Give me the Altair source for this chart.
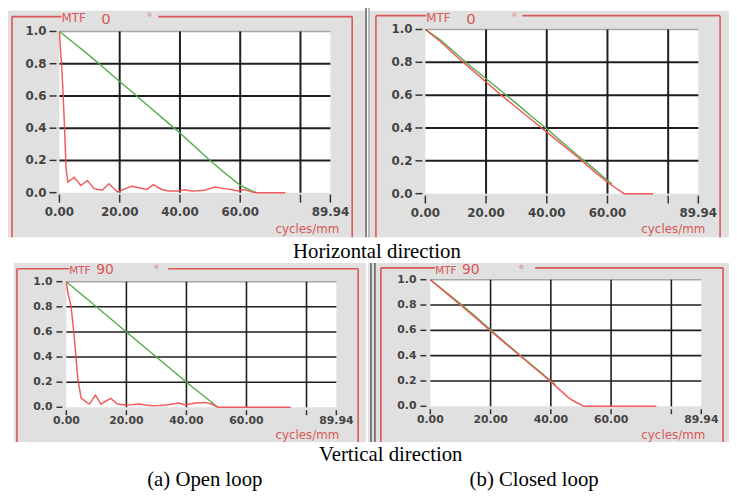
import altair as alt
import pandas as pd

# ---------------- data ----------------
x_max = 89.94
x_tick_values = [0, 20, 40, 60, 80, 89.94]
x_tick_labels = ["0.00", "20.00", "40.00", "60.00", "", "89.94"]
y_tick_values = [0.0, 0.2, 0.4, 0.6, 0.8, 1.0]
y_tick_labels = ["0.0", "0.2", "0.4", "0.6", "0.8", "1.0"]
x_grid_values = [20, 40, 60, 80]
y_grid_values = [0.2, 0.4, 0.6, 0.8]
y_top_value = [1.0]

# Horizontal direction, open loop
h_open_green_x = [0, 5, 10, 15, 20, 25, 30, 35, 40, 45, 50, 55, 60, 65.2]
h_open_green_y = [1.0, 0.925, 0.85, 0.77, 0.69, 0.61, 0.53, 0.45, 0.37, 0.285, 0.2, 0.12, 0.045, 0.0]
h_open_red_x = [0, 0.3, 0.7, 1.2, 1.7, 2.2, 2.8, 3.8, 4.9, 6.0, 7.1, 8.2, 9.3, 10.4, 11.5,
                12.8, 14.2, 15.3, 16.4, 17.8, 19.2, 20.5, 21.9, 24.1, 26.3, 29.0, 31.2, 32.5,
                34.0, 36.2, 39.5, 41.6, 43.8, 46.0, 48.2, 51.5, 54.8, 57.0, 59.2, 61.4, 63.6,
                65.8, 75.0]
h_open_red_y = [1.0, 0.9, 0.8, 0.62, 0.4, 0.15, 0.065, 0.08, 0.095, 0.07, 0.045, 0.06, 0.075,
                0.05, 0.025, 0.02, 0.015, 0.035, 0.055, 0.03, 0.005, 0.015, 0.025, 0.04, 0.03,
                0.02, 0.05, 0.035, 0.02, 0.01, 0.01, 0.018, 0.01, 0.012, 0.015, 0.035, 0.025,
                0.02, 0.01, 0.02, 0.005, 0.0, 0.0]

# Horizontal direction, closed loop
h_closed_green_x = [0, 5, 10, 15, 20, 25, 30, 35, 40, 45, 50, 55, 60, 61.5]
h_closed_green_y = [1.0, 0.935, 0.855, 0.775, 0.70, 0.625, 0.55, 0.47, 0.395, 0.315, 0.235, 0.16, 0.08, 0.06]
h_closed_red_x = [0, 5, 10, 15, 20, 25, 30, 35, 40, 45, 50, 55, 60, 63, 65.5, 75]
h_closed_red_y = [1.0, 0.925, 0.84, 0.76, 0.68, 0.60, 0.525, 0.45, 0.375, 0.30, 0.225, 0.145,
                  0.07, 0.03, 0.0, 0.0]

# Vertical direction, open loop
v_open_green_x = [0, 10, 20, 30, 40, 50.5]
v_open_green_y = [1.0, 0.8, 0.6, 0.4, 0.2, 0.0]
v_open_red_x = [0, 0.5, 1.6, 2.7, 3.8, 4.9, 6.4, 7.7, 9.7, 11.5, 13.2, 14.8, 17.0, 19.8,
                22.0, 24.2, 26.5, 28.6, 31.0, 33.0, 35.0, 37.4, 39.6, 42.9, 46.2, 48.4, 50.5, 74.7]
v_open_red_y = [1.0, 0.91, 0.8, 0.54, 0.23, 0.076, 0.045, 0.026, 0.097, 0.026, 0.05, 0.071,
                0.026, 0.018, 0.02, 0.026, 0.018, 0.013, 0.015, 0.018, 0.025, 0.034, 0.018,
                0.034, 0.039, 0.026, 0.0, 0.0]

# Vertical direction, closed loop
v_closed_green_x = [0, 5, 10, 15, 20, 25, 30, 35, 40, 41.5]
v_closed_green_y = [1.0, 0.905, 0.81, 0.71, 0.605, 0.50, 0.40, 0.30, 0.20, 0.17]
v_closed_red_x = [0, 5, 7, 10, 15, 20, 25, 30, 35, 40, 43, 46, 48.5, 51, 75]
v_closed_red_y = [1.0, 0.9, 0.86, 0.80, 0.70, 0.595, 0.495, 0.395, 0.295, 0.195, 0.13,
                  0.065, 0.03, 0.0, 0.0]

panel_angles = ["0", "0", "90", "90"]
row_captions = ["Horizontal direction", "Vertical direction"]
col_captions = ["(a) Open loop", "(b) Closed loop"]
unit_label = "cycles/mm"
title_word = "MTF"

# ---------------- styling ----------------
OFF = 8
W, H = 729, 490
GRAY = "#e0e0e0"
FRAME = "#d95757"
RED = "#f24a4a"
GREEN = "#4fae4a"
GRID = "#1e1e1e"
LABEL = "#444444"
SANS = "DejaVu Sans"
SERIF = "Liberation Serif"

ONE = pd.DataFrame({"k": [0]})


def P(v):
    return v - OFF


def vrule(x, y1, y2, color, width):
    return alt.Chart(ONE).mark_rule(color=color, strokeWidth=width).encode(
        x=alt.value(P(x)), y=alt.value(P(y1)), y2=alt.value(P(y2)))


def hrule(x1, x2, y, color, width):
    return alt.Chart(ONE).mark_rule(color=color, strokeWidth=width).encode(
        x=alt.value(P(x1)), x2=alt.value(P(x2)), y=alt.value(P(y)))


def rect(x1, x2, y1, y2, color):
    return alt.Chart(ONE).mark_rect(color=color).encode(
        x=alt.value(max(P(x1), 0)), x2=alt.value(P(x2)),
        y=alt.value(max(P(y1), 0)), y2=alt.value(P(y2)))


def text(s, x, y, size, color, font=SANS, align="left", baseline="middle", weight="normal"):
    return alt.Chart(ONE).mark_text(
        text=s, fontSize=size, color=color, font=font, align=align,
        baseline=baseline, fontWeight=weight).encode(x=alt.value(P(x)), y=alt.value(P(y)))


panels = [
    dict(px0=60, px1=334, ptop=29, pbot=192, bg=(0, 369, 4, 237), frame=(12, 14, 356, 237),
         mtf_x=62, mtf_y=15, num_x=107, num_y=16, deg=(151, 12), line_from=160, xt=(194, 202), xl_y=212,
         yl_right=47, yt=(50, 57), unit=(343, 229), fs=12, mtf_fs=12, num_fs=15, gw=2,
         green=(h_open_green_x, h_open_green_y), red=(h_open_red_x, h_open_red_y)),
    dict(px0=430, px1=706, ptop=27, pbot=193, bg=(374, 737, 3, 237), frame=(380, 13, 728, 237),
         mtf_x=431, mtf_y=15, num_x=476, num_y=16, deg=(520, 12), line_from=528, xt=(195, 203), xl_y=213,
         yl_right=417, yt=(420, 427), unit=(713, 229), fs=12, mtf_fs=12, num_fs=15, gw=2,
         green=(h_closed_green_x, h_closed_green_y), red=(h_closed_red_x, h_closed_red_y)),
    dict(px0=67, px1=340, ptop=282, pbot=409, bg=(14, 370, 263, 444), frame=(17, 269, 362, 444),
         mtf_x=70, mtf_y=271, num_x=106, num_y=270, deg=(158, 267), line_from=170, xt=(412, 417), xl_y=423,
         yl_right=53, yt=(57, 63), unit=(343, 437), fs=11, mtf_fs=10.5, num_fs=14, gw=1.6,
         green=(v_open_green_x, v_open_green_y), red=(v_open_red_x, v_open_red_y)),
    dict(px0=435, px1=709, ptop=280, pbot=408, bg=(372, 737, 263, 444), frame=(385, 268, 731, 444),
         mtf_x=440, mtf_y=271, num_x=476, num_y=270, deg=(527, 267), line_from=541, xt=(411, 416), xl_y=422,
         yl_right=421, yt=(425, 431), unit=(713, 437), fs=11, mtf_fs=10.5, num_fs=14, gw=1.6,
         green=(v_closed_green_x, v_closed_green_y), red=(v_closed_red_x, v_closed_red_y)),
]


def panel_layers(g, angle):
    xs = alt.Scale(domain=[0, x_max], range=[P(g["px0"]), P(g["px1"])], nice=False, zero=False)
    ys = alt.Scale(domain=[0, 1], range=[P(g["pbot"]), P(g["ptop"])], nice=False, zero=False)
    fx0, ft, fx1, fb = g["frame"]
    bx0, bx1, by0, by1 = g["bg"]
    L = []
    L.append(rect(bx0, bx1, by0, by1, GRAY))
    L.append(vrule(fx0, ft, fb, FRAME, 1.6))
    L.append(vrule(fx1, ft, fb, FRAME, 1.6))
    L.append(hrule(fx0, g["mtf_x"], ft, FRAME, 1.6))
    L.append(hrule(g["line_from"], fx1, ft, FRAME, 1.6))
    L.append(rect(g["px0"], g["px1"], g["ptop"], g["pbot"], "white"))

    X = lambda f: alt.X(f, type="quantitative", scale=xs, axis=None)
    Y = lambda f: alt.Y(f, type="quantitative", scale=ys, axis=None)

    L.append(alt.Chart(pd.DataFrame({"v": y_top_value})).mark_rule(color="#a8a8a8", strokeWidth=1.5)
             .encode(y=Y("v"), x=alt.value(P(g["px0"])), x2=alt.value(P(g["px1"]))))
    L.append(alt.Chart(pd.DataFrame({"v": y_grid_values})).mark_rule(color=GRID, strokeWidth=g["gw"])
             .encode(y=Y("v"), x=alt.value(P(g["px0"])), x2=alt.value(P(g["px1"]))))
    L.append(alt.Chart(pd.DataFrame({"v": x_grid_values})).mark_rule(color=GRID, strokeWidth=g["gw"])
             .encode(x=X("v"), y=alt.value(P(g["ptop"])), y2=alt.value(P(g["pbot"]))))
    # ticks
    L.append(alt.Chart(pd.DataFrame({"v": x_tick_values})).mark_rule(color="#333333", strokeWidth=1.5)
             .encode(x=X("v"), y=alt.value(P(g["xt"][0])), y2=alt.value(P(g["xt"][1]))))
    L.append(alt.Chart(pd.DataFrame({"v": y_tick_values})).mark_rule(color="#333333", strokeWidth=1.5)
             .encode(y=Y("v"), x=alt.value(P(g["yt"][0])), x2=alt.value(P(g["yt"][1]))))
    # tick labels
    xl = pd.DataFrame({"v": x_tick_values, "lab": x_tick_labels})
    xl = xl[xl["lab"] != ""]
    L.append(alt.Chart(xl).mark_text(font=SANS, fontSize=g["fs"], fontWeight="bold", color=LABEL,
                                     baseline="middle", align="center")
             .encode(x=X("v"), y=alt.value(P(g["xl_y"])), text="lab:N"))
    yl = pd.DataFrame({"v": y_tick_values, "lab": y_tick_labels})
    L.append(alt.Chart(yl).mark_text(font=SANS, fontSize=g["fs"], fontWeight="bold", color=LABEL,
                                     baseline="middle", align="right")
             .encode(y=Y("v"), x=alt.value(P(g["yl_right"])), text="lab:N"))
    # curves
    gx, gy = g["green"]
    rx, ry = g["red"]
    L.append(alt.Chart(pd.DataFrame({"x": gx, "y": gy})).mark_line(color=GREEN, strokeWidth=1.4)
             .encode(x=X("x"), y=Y("y")))
    L.append(alt.Chart(pd.DataFrame({"x": rx, "y": ry})).mark_line(color=RED, strokeWidth=1.5, opacity=0.9)
             .encode(x=X("x"), y=Y("y")))
    # title and unit
    L.append(text(title_word, g["mtf_x"], g["mtf_y"], g["mtf_fs"], FRAME))
    L.append(text(angle, g["num_x"], g["num_y"], g["num_fs"], FRAME, align="center"))
    L.append(alt.Chart(ONE).mark_point(shape="circle", filled=False, size=9, color=FRAME, strokeWidth=1)
             .encode(x=alt.value(P(g["deg"][0])), y=alt.value(P(g["deg"][1]))))
    L.append(text(unit_label, g["unit"][0], g["unit"][1], 12, FRAME, align="right"))
    return L


layers = []
for g, ang in zip(panels, panel_angles):
    layers += panel_layers(g, ang)

# separators between the two panel columns
layers.append(vrule(370, 3, 237, "#5a5a5a", 1.5))
layers.append(vrule(373, 3, 237, "#8a8a8a", 1.2))
layers.append(vrule(375, 263, 444, "#5a5a5a", 1.5))
layers.append(vrule(379, 263, 444, "#5a5a5a", 1.5))

# captions
layers.append(text(row_captions[0], 381, 258, 21, "black", font=SERIF, align="center", baseline="alphabetic"))
layers.append(text(row_captions[1], 395, 463, 21, "black", font=SERIF, align="center", baseline="alphabetic"))
layers.append(text(col_captions[0], 207, 489, 21, "black", font=SERIF, align="center", baseline="alphabetic"))
layers.append(text(col_captions[1], 540, 489, 21, "black", font=SERIF, align="center", baseline="alphabetic"))

chart = (
    alt.layer(*layers)
    .resolve_scale(x="independent", y="independent")
    .properties(width=W, height=H, autosize=alt.AutoSizeParams(type="none"), padding=0)
    .configure_view(stroke=None)
)

chart.save("out.html", embed_options={"renderer": "svg", "actions": False})
